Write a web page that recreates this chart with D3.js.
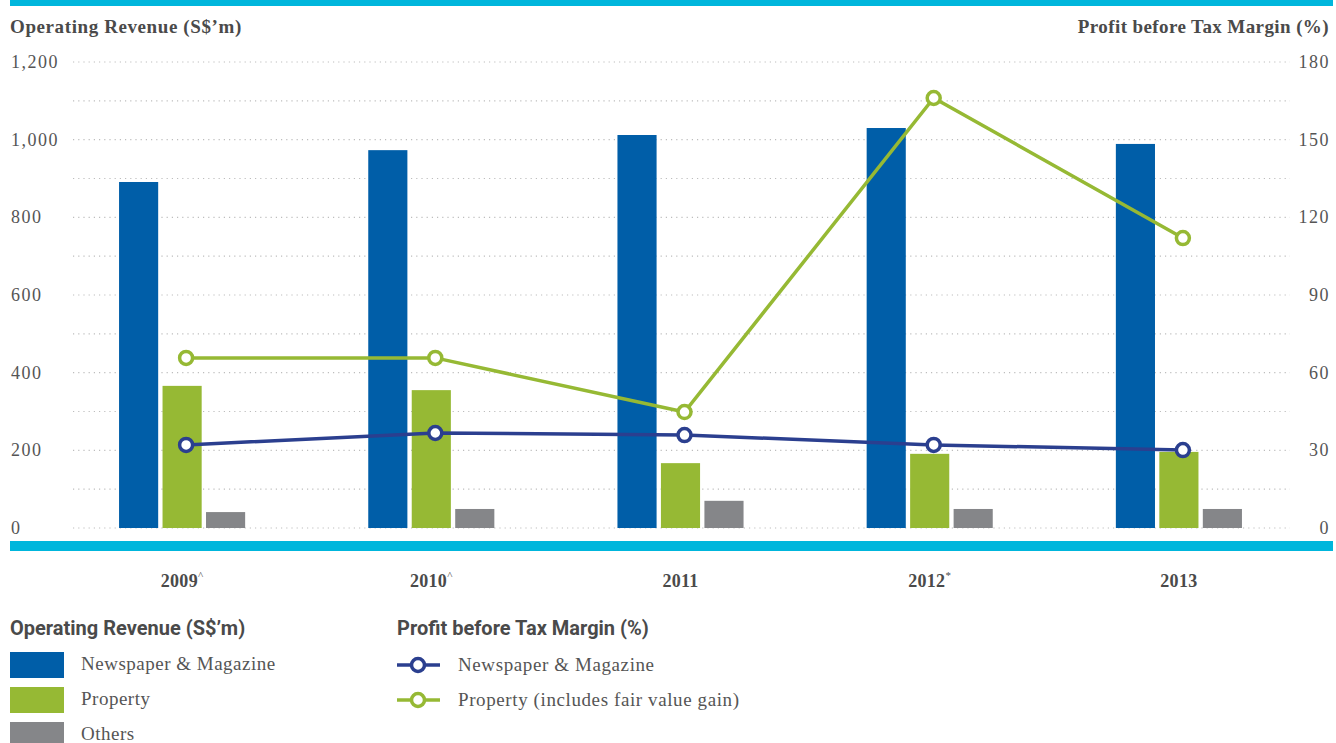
<!DOCTYPE html>
<html>
<head>
<meta charset="utf-8">
<script src="https://cdn.jsdelivr.net/npm/d3@7"></script>
<style>
  body { margin: 0; background: #fff; }
  svg text { fill: #4a4a4a; }
  .serif { font-family: "Liberation Serif", "DejaVu Serif", serif; }
  .narrow { font-family: "Liberation Sans Narrow", "Roboto", sans-serif; }
</style>
</head>
<body>
<svg id="chart" width="1336" height="743"></svg>
<script>
// data
const years = ["2009", "2010", "2011", "2012", "2013"];
const yearMarks = ["^", "^", "", "*", ""];
const revSeries = ["Newspaper & Magazine", "Property", "Others"];
const revNewspaper = [891, 973, 1012, 1030, 989];
const revProperty = [366, 355, 167, 191, 196];
const revOthers = [41, 49, 70, 49, 49];
const marginSeries = ["Newspaper & Magazine", "Property (includes fair value gain)"];
const marginNewspaper = [32.1, 36.7, 35.9, 32.1, 30.1];
const marginProperty = [65.7, 65.7, 44.8, 166.1, 112.0];
const leftTicks = [0, 200, 400, 600, 800, 1000, 1200];
const rightTicks = [0, 30, 60, 90, 120, 150, 180];

const barColors = ["#005ea8", "#96b934", "#858689"];
const lineColors = ["#2b3f8f", "#96b934"];
const cyan = "#00b6dc";

const svg = d3.select("#chart");

// scales
const x0 = d3.scaleBand().domain(years).range([57.5, 1303.5])
  .paddingInner(0.494).paddingOuter(0.247);
const x1 = d3.scaleBand().domain(revSeries).range([0, x0.bandwidth()]).paddingInner(0.1);
const yL = d3.scaleLinear().domain([0, 1200]).range([528, 62]);
const yR = d3.scaleLinear().domain([0, 180]).range([528, 62]);

// top bar
svg.append("rect").attr("x", 10).attr("y", 0).attr("width", 1323).attr("height", 6).attr("fill", cyan);

// titles
svg.append("text").attr("class", "serif").attr("x", 10).attr("y", 33)
  .style("font-size", "19px").style("font-weight", "bold").style("letter-spacing", "0.6px")
  .text("Operating Revenue (S$’m)");
svg.append("text").attr("class", "serif").attr("x", 1329).attr("y", 33)
  .attr("text-anchor", "end")
  .style("font-size", "19px").style("font-weight", "bold").style("letter-spacing", "0.4px")
  .text("Profit before Tax Margin (%)");

// gridlines
svg.append("g").selectAll("line").data(d3.range(0, 1201, 100)).join("line")
  .attr("x1", 73).attr("x2", 1290)
  .attr("y1", d => yL(d)).attr("y2", d => yL(d))
  .attr("stroke", "#bdbdbd").attr("stroke-width", 1.2).attr("stroke-dasharray", "1.2,4");

// left axis labels
svg.append("g").selectAll("text").data(leftTicks).join("text")
  .attr("class", "serif")
  .attr("x", 11).attr("y", d => yL(d) + 6)
  .style("font-size", "18px").style("letter-spacing", "1.5px").style("fill", "#555")
  .text(d => d3.format(",")(d));

// right axis labels
svg.append("g").selectAll("text").data(rightTicks).join("text")
  .attr("class", "serif")
  .attr("x", 1330).attr("y", d => yR(d) + 6).attr("text-anchor", "end")
  .style("font-size", "18px").style("letter-spacing", "1.5px").style("fill", "#555")
  .text(d => d);

// bars
const revData = years.map((yr, i) => ({
  year: yr,
  vals: [revNewspaper[i], revProperty[i], revOthers[i]]
}));
const groups = svg.append("g").selectAll("g").data(revData).join("g")
  .attr("transform", d => `translate(${x0(d.year)},0)`);
groups.selectAll("rect").data(d => d.vals.map((v, j) => ({ key: revSeries[j], v, j }))).join("rect")
  .attr("x", d => x1(d.key))
  .attr("width", x1.bandwidth())
  .attr("y", d => yL(d.v))
  .attr("height", d => yL(0) - yL(d.v))
  .attr("fill", d => barColors[d.j]);

// bottom bar
svg.append("rect").attr("x", 10).attr("y", 541).attr("width", 1323).attr("height", 10).attr("fill", cyan);

// lines
const cx = yr => x0(yr) + x0.bandwidth() / 2 + 4;
[marginNewspaper, marginProperty].forEach((vals, k) => {
  const pts = years.map((yr, i) => [cx(yr), yR(vals[i])]);
  svg.append("path").attr("d", d3.line()(pts))
    .attr("fill", "none").attr("stroke", lineColors[k]).attr("stroke-width", 3.5);
  svg.append("g").selectAll("circle").data(pts).join("circle")
    .attr("cx", d => d[0]).attr("cy", d => d[1]).attr("r", 6.5)
    .attr("fill", "#fff").attr("stroke", lineColors[k]).attr("stroke-width", 3.5);
});

// x labels
const xl = svg.append("g").selectAll("text").data(years).join("text")
  .attr("class", "serif")
  .attr("x", d => x0(d) + x0.bandwidth() / 2)
  .attr("y", 587).attr("text-anchor", "middle")
  .style("font-size", "18px").style("font-weight", "bold").style("letter-spacing", "0.3px");
xl.append("tspan").text(d => d);
xl.append("tspan").attr("dy", -8).style("font-size", "11px").style("font-weight", "normal")
  .text((d, i) => yearMarks[i]);

// legend: revenue
const lg = svg.append("g");
lg.append("text").attr("class", "narrow").attr("x", 10).attr("y", 635)
  .style("font-size", "20px").style("font-weight", "bold").text("Operating Revenue (S$’m)");
revSeries.forEach((s, i) => {
  const y = 652 + i * 35;
  lg.append("rect").attr("x", 10).attr("y", y).attr("width", 54).attr("height", 26).attr("fill", barColors[i]);
  lg.append("text").attr("class", "serif").attr("x", 81).attr("y", y + 18)
    .style("font-size", "19px").style("letter-spacing", "0.5px").style("fill", "#555").text(s);
});

// legend: margin
lg.append("text").attr("class", "narrow").attr("x", 397).attr("y", 635)
  .style("font-size", "20px").style("font-weight", "bold").text("Profit before Tax Margin (%)");
marginSeries.forEach((s, i) => {
  const y = 665 + i * 35;
  lg.append("line").attr("x1", 397).attr("x2", 440).attr("y1", y).attr("y2", y)
    .attr("stroke", lineColors[i]).attr("stroke-width", 3.5);
  lg.append("circle").attr("cx", 418).attr("cy", y).attr("r", 6.5)
    .attr("fill", "#fff").attr("stroke", lineColors[i]).attr("stroke-width", 3.5);
  lg.append("text").attr("class", "serif").attr("x", 458).attr("y", y + 6)
    .style("font-size", "19px").style("letter-spacing", "0.6px").style("fill", "#555").text(s);
});
</script>
</body>
</html>
